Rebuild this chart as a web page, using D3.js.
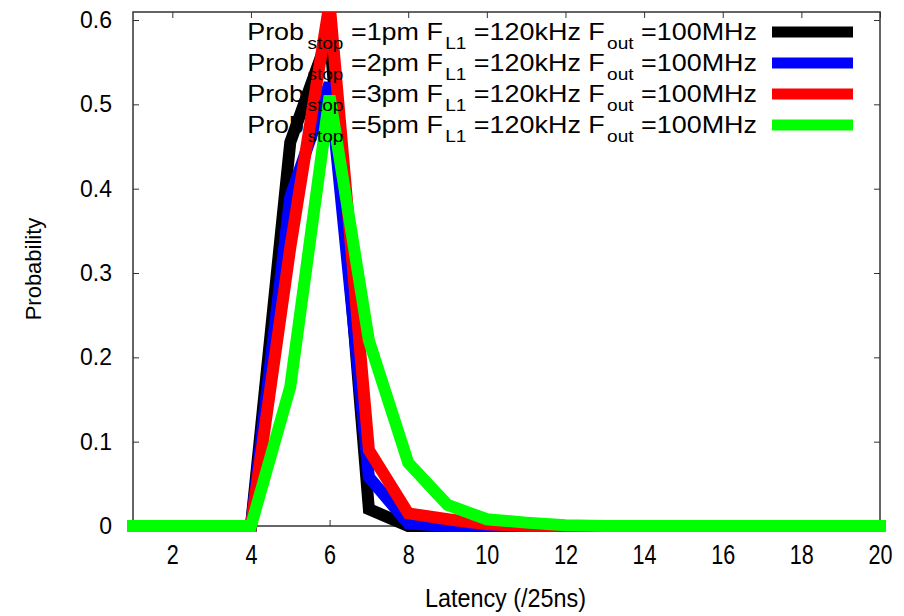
<!DOCTYPE html>
<html>
<head>
<meta charset="utf-8">
<script src="https://cdn.jsdelivr.net/npm/d3@7"></script>
<style>
  body { margin: 0; background: #fff; }
  svg { display: block; font-family: "Liberation Sans", Arial, sans-serif; }
  .tick text { fill: #000; }
</style>
</head>
<body>
<div id="chart"></div>
<script>
// Latency distribution for several stop probabilities

const latency = [1, 2, 3, 4, 5, 6, 7, 8, 9, 10, 11, 12, 13, 14, 15, 16, 17, 18, 19, 20];
const probStop = ["1pm", "2pm", "3pm", "5pm"];
const seriesColors = ["#000000", "#0000ff", "#ff0000", "#00ff00"];

const prob1pm = [0, 0, 0, 0, 0.455, 0.585, 0.02, 0, 0, 0, 0, 0, 0, 0, 0, 0, 0, 0, 0, 0];
const prob2pm = [0, 0, 0, 0, 0.39, 0.525, 0.058, 0.003, 0, 0, 0, 0, 0, 0, 0, 0, 0, 0, 0, 0];
const prob3pm = [0, 0, 0, 0, 0.33, 0.62, 0.09, 0.015, 0.008, 0.002, 0, 0, 0, 0, 0, 0, 0, 0, 0, 0];
const prob5pm = [0, 0, 0, 0, 0.165, 0.51, 0.22, 0.075, 0.025, 0.008, 0.004, 0.001, 0, 0, 0, 0, 0, 0, 0, 0];

const xTicks = [2, 4, 6, 8, 10, 12, 14, 16, 18, 20];
const yTicks = [0, 0.1, 0.2, 0.3, 0.4, 0.5, 0.6];

const allSeries = [prob1pm, prob2pm, prob3pm, prob5pm];

const width = 904;
const height = 616;
const margin = { top: 12, right: 24, bottom: 90, left: 133 };
const innerWidth = width - margin.left - margin.right;
const innerHeight = height - margin.top - margin.bottom;

const svg = d3.select("#chart").append("svg")
    .attr("width", width)
    .attr("height", height);

const g = svg.append("g")
    .attr("transform", `translate(${margin.left},${margin.top})`);

const xScale = d3.scaleLinear()
    .domain([1, 20])
    .range([0, innerWidth]);

const yScale = d3.scaleLinear()
    .domain([0, 0.6095])
    .range([innerHeight, 0]);

// clip: plot area, with room left/right/bottom for the thick strokes
svg.append("defs").append("clipPath")
    .attr("id", "plotClip")
    .append("rect")
    .attr("x", -12)
    .attr("y", 0)
    .attr("width", innerWidth + 24)
    .attr("height", innerHeight + 12);

// Axes (ticks point inward, mirrored on top/right)
g.append("g")
    .attr("class", "axis x-axis")
    .attr("transform", `translate(0,${innerHeight})`)
    .call(d3.axisBottom(xScale).tickValues(xTicks).tickSize(-6).tickPadding(19).tickFormat(d3.format("d")))
    .call(ax => ax.select(".domain").remove())
    .call(ax => ax.selectAll(".tick line").attr("stroke", "#333"))
    .call(ax => ax.selectAll(".tick text")
        .attr("font-size", 27)
        .style("font-size", "27px")
        .attr("transform", "scale(0.8,1)"));

g.append("g")
    .attr("class", "axis x-axis-top")
    .call(d3.axisTop(xScale).tickValues(xTicks).tickSize(-6).tickFormat(""))
    .call(ax => ax.select(".domain").remove())
    .call(ax => ax.selectAll(".tick line").attr("stroke", "#333"));

g.append("g")
    .attr("class", "axis y-axis")
    .call(d3.axisLeft(yScale).tickValues(yTicks).tickSize(-6).tickPadding(21).tickFormat(d => d === 0 ? "0" : d3.format(".1f")(d)))
    .call(ax => ax.select(".domain").remove())
    .call(ax => ax.selectAll(".tick line").attr("stroke", "#333"))
    .call(ax => ax.selectAll(".tick text").style("font-size", "23px"));

g.append("g")
    .attr("class", "axis y-axis-right")
    .attr("transform", `translate(${innerWidth},0)`)
    .call(d3.axisRight(yScale).tickValues(yTicks).tickSize(-6).tickFormat(""))
    .call(ax => ax.select(".domain").remove())
    .call(ax => ax.selectAll(".tick line").attr("stroke", "#333"));

// Border
g.append("rect")
    .attr("width", innerWidth)
    .attr("height", innerHeight)
    .attr("fill", "none")
    .attr("stroke", "#333")
    .attr("stroke-width", 1.5);

// Axis titles
svg.append("text")
    .attr("transform", `translate(${margin.left + innerWidth / 2 - 1},607) scale(0.9,1)`)
    .attr("text-anchor", "middle")
    .style("font-size", "26px")
    .text("Latency (/25ns)");

svg.append("text")
    .attr("transform", `translate(41,${margin.top + innerHeight / 2}) rotate(-90)`)
    .attr("text-anchor", "middle")
    .style("font-size", "22px")
    .text("Probability");

// Legend text (drawn under the curves, like the original)
const legendY = [32, 63, 94, 125];
const legendRight = 757;
const legendTextWidth = 510;

probStop.forEach((p, i) => {
    const t = svg.append("text")
        .attr("x", 0)
        .attr("y", 0)
        .attr("text-anchor", "end")
        .style("font-size", "24px");
    t.append("tspan").text("Prob");
    t.append("tspan").attr("dx", 3).attr("dy", 9).style("font-size", "17px").text("stop");
    t.append("tspan").attr("dy", -9).text(` =${p} F`);
    t.append("tspan").attr("dx", 2).attr("dy", 9).style("font-size", "17px").text("L1");
    t.append("tspan").attr("dy", -9).text(" =120kHz F");
    t.append("tspan").attr("dx", 2).attr("dy", 9).style("font-size", "17px").text("out");
    t.append("tspan").attr("dy", -9).text(" =100MHz");

    const w = t.node().getComputedTextLength() + 7;
    const sx = legendTextWidth / w;
    t.attr("transform", `translate(${legendRight},${legendY[i] + 8}) scale(${sx},1)`);
});

// Curves
const line = d3.line()
    .x((d, i) => xScale(latency[i]))
    .y(d => yScale(d));

const plot = g.append("g").attr("clip-path", "url(#plotClip)");

allSeries.forEach((s, i) => {
    plot.append("path")
        .datum(s)
        .attr("fill", "none")
        .attr("stroke", seriesColors[i])
        .attr("stroke-width", 12)
        .attr("stroke-linejoin", "miter")
        .attr("stroke-linecap", "square")
        .attr("d", line);
});

// Legend samples
probStop.forEach((p, i) => {
    svg.append("line")
        .attr("x1", 772)
        .attr("x2", 853)
        .attr("y1", legendY[i])
        .attr("y2", legendY[i])
        .attr("stroke", seriesColors[i])
        .attr("stroke-width", 11);
});
</script>
</body>
</html>
